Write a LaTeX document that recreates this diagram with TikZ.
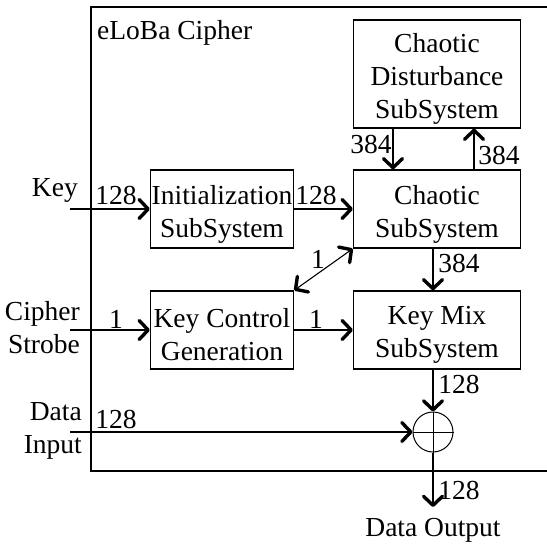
\documentclass[tikz,border=0pt]{standalone}
\usepackage{fontspec}
\setmainfont{Liberation Serif}
\usetikzlibrary{arrows.meta}
\begin{document}
\begin{tikzpicture}[x=1pt,y=-1pt,
  every node/.style={font=\fontsize{27.5}{33}\selectfont},
  tip/.tip={Straight Barb[length=9pt,width=19pt,line width=3.4pt,round]},
  block/.style={draw,line width=1.3pt,minimum width=143pt,minimum height=78pt,inner sep=0pt,
    label={[inner sep=0pt,align=center,yshift=-5pt]center:#1}},
  wire/.style={line width=1.1pt,-tip},
  both/.style={line width=1.1pt,tip-tip},
  lbl/.style={inner sep=0pt}]
\useasboundingbox (0,0) rectangle (547,546);
\begin{scope}
\clip (0,0) rectangle (547,546);
% enclosing cipher frame (runs off to the right)
\draw[line width=1.3pt] (600,7) -- (91,7) -- (91,471) -- (600,471);
\end{scope}
\node[lbl,anchor=west] (title) at (97,33) {eLoBa Cipher};

% blocks
\node[block={Chaotic\\Disturbance\\SubSystem},minimum width=167pt,minimum height=108pt] (cd) at (437,74) {};
\node[block={Initialization\\SubSystem}] (init) at (222,209) {};
\node[block={Chaotic\\SubSystem},minimum width=167pt] (cs) at (437,209) {};
\node[block={Key Control\\Generation}] (kcg) at (222,330) {};
\node[block={Key Mix\\SubSystem},minimum width=167pt] (km) at (437,330) {};
\node[draw,circle,line width=1pt,minimum size=40pt,inner sep=0pt] (xor) at (433,432) {};
\draw[line width=1pt] (xor.north) -- (xor.south) (xor.west) -- (xor.east);

% external inputs
\coordinate (kin) at (70,209);
\coordinate (sin) at (70,330);
\coordinate (din) at (70,432);
\coordinate (dout) at (433,507);
\node[lbl,anchor=east] (keyl) at (78,190) {Key};
\node[lbl,anchor=east,align=right] (strl) at (80,328) {Cipher\\Strobe};
\node[lbl,anchor=east,align=right] (datl) at (82,431) {Data\\Input};
\node[lbl] (outl) at (433,530) {Data Output};

% connectors
\draw[wire] (kin) -- (init.west);
\draw[wire] (init.east) -- (cs.west);
\draw[wire] (cd.south -| 393,0) -- (cs.north -| 393,0);
\draw[wire] (cs.north -| 474,0) -- (cd.south -| 474,0);
\draw[wire] (cs.south -| xor) -- (km.north -| xor);
\draw[both] (kcg.north east) -- (cs.south west);
\draw[wire] (sin) -- (kcg.west);
\draw[wire] (kcg.east) -- (km.west);
\draw[wire] (km.south -| xor) -- (xor.north);
\draw[wire] (din) -- (xor.west);
\draw[wire] (xor.south) -- (dout);

% bus widths
\node[lbl] (w1) at (116,195) {128};
\node[lbl] (w2) at (316,195) {128};
\node[lbl] (w3) at (371,144) {384};
\node[lbl] (w4) at (499,155) {384};
\node[lbl] (w5) at (459,263) {384};
\node[lbl] (w6) at (318,259) {1};
\node[lbl] (w7) at (116,319) {1};
\node[lbl] (w8) at (316,319) {1};
\node[lbl] (w9) at (459,384) {128};
\node[lbl] (w10) at (116,419) {128};
\node[lbl] (w11) at (459,490) {128};
\end{tikzpicture}
\end{document}
